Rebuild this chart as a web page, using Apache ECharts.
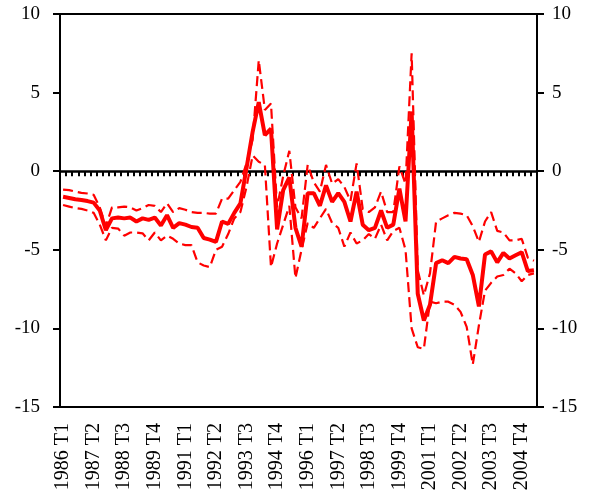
<!DOCTYPE html>
<html>
<head>
<meta charset="utf-8">
<script src="https://cdn.jsdelivr.net/npm/echarts@6/dist/echarts.min.js"></script>
<style>
html,body{margin:0;padding:0;background:#fff;}
#chart{width:589px;height:501px;}
</style>
</head>
<body>
<div id="chart"></div>
<script>
// Quarterly categories 1986 T1 .. 2005 T2
var years = [1986,1987,1988,1989,1990,1991,1992,1993,1994,1995,1996,1997,1998,1999,2000,2001,2002,2003,2004,2005];
var quarters = ['T1','T2','T3','T4'];
var categories = [];
years.forEach(function(y){ quarters.forEach(function(q){ categories.push(y + ' ' + q); }); });
categories = categories.slice(0, 78);

var central = [
 -1.63,-1.70,-1.78,-1.83,-1.90,-2.00,-2.50,-3.75,-3.00,-2.95,
 -3.00,-2.95,-3.20,-3.00,-3.10,-2.95,-3.45,-2.80,-3.60,-3.30,
 -3.40,-3.55,-3.60,-4.25,-4.35,-4.50,-3.20,-3.35,-2.65,-2.05,
  0.20, 2.50, 4.40, 2.30, 2.70,-3.70,-1.20,-0.40,-3.60,-4.80,
 -1.40,-1.40,-2.20,-0.90,-1.95,-1.40,-1.95,-3.20,-1.30,-3.40,
 -3.75,-3.60,-2.50,-3.60,-3.40,-1.10,-3.20, 3.80,-7.80,-9.50,
 -8.50,-5.85,-5.66,-5.85,-5.45,-5.55,-5.60,-6.60,-8.60,-5.30,
 -5.10,-5.80,-5.20,-5.55,-5.35,-5.15,-6.35,-6.30
];
var upper = [
 -1.17,-1.20,-1.30,-1.38,-1.42,-1.50,-2.30,-3.50,-2.30,-2.30,
 -2.25,-2.30,-2.50,-2.35,-2.15,-2.20,-2.60,-2.05,-2.60,-2.35,
 -2.45,-2.60,-2.65,-2.65,-2.70,-2.70,-1.74,-1.74,-1.20,-0.68,
  0.50, 2.00, 7.06, 3.90, 4.30,-2.30,-0.30, 1.30,-2.30,-3.00,
  0.40,-0.70,-1.30, 0.40,-0.80,-0.50,-1.00,-1.90, 0.50,-2.40,
 -2.60,-2.30,-1.30,-2.60,-2.60, 0.30,-0.80, 7.50,-6.30,-7.90,
 -6.50,-3.20,-3.00,-2.80,-2.65,-2.70,-2.80,-3.50,-4.50,-3.20,
 -2.60,-3.80,-3.90,-4.40,-4.40,-4.30,-5.50,-5.70
];
var lower = [
 -2.15,-2.25,-2.35,-2.40,-2.50,-2.65,-3.40,-4.40,-3.60,-3.65,
 -4.10,-3.90,-3.90,-3.95,-4.40,-3.90,-4.40,-4.10,-4.30,-4.60,
 -4.70,-4.70,-5.80,-6.00,-6.10,-5.00,-4.80,-4.00,-3.00,-2.60,
 -1.00, 1.00, 0.60, 0.40,-6.10,-4.60,-3.40,-2.20,-6.80,-5.00,
 -3.30,-3.60,-3.00,-2.40,-3.30,-3.60,-4.80,-3.90,-4.60,-4.40,
 -4.00,-4.30,-3.40,-4.40,-3.80,-3.60,-5.00,-10.00,-11.20,-11.30,
 -8.30,-8.40,-8.30,-8.30,-8.50,-8.95,-9.90,-12.30,-9.80,-7.60,
 -7.10,-6.70,-6.60,-6.20,-6.50,-7.00,-6.60,-6.50
];

var FONT = 'Liberation Serif';
var chart = echarts.init(document.getElementById('chart'), null, {renderer:'canvas'});
var yCommon = {
  type:'value', min:-15, max:10, interval:5,
  splitLine:{show:false},
  axisLine:{show:true, lineStyle:{color:'#000', width:2}},
  axisTick:{show:true, inside:false, length:7, lineStyle:{color:'#000', width:2}},
  axisLabel:{color:'#000', fontFamily:FONT, fontSize:19}
};
chart.setOption({
  animation:false,
  backgroundColor:'#fff',
  grid:{left:60, right:52, top:14, bottom:94, show:true, borderColor:'#000', borderWidth:2, backgroundColor:'transparent'},
  xAxis:[{
    type:'category', data:categories, boundaryGap:true, position:'bottom',
    axisLine:{onZero:false, lineStyle:{color:'#000', width:2}},
    axisTick:{show:false},
    axisLabel:{interval:4, rotate:90, margin:16, color:'#000', fontFamily:FONT, fontSize:20}
  },{
    type:'category', data:categories, boundaryGap:true, position:'bottom',
    axisLine:{show:true, onZero:true, onZeroAxisIndex:0, lineStyle:{color:'#000', width:2.5}},
    axisTick:{show:true, interval:0, length:5, lineStyle:{color:'#000', width:2}},
    axisLabel:{show:false}
  }],
  yAxis:[
    Object.assign({}, yCommon, {position:'left', axisLabel:Object.assign({}, yCommon.axisLabel, {margin:20})}),
    Object.assign({}, yCommon, {position:'right', axisLabel:Object.assign({}, yCommon.axisLabel, {margin:15})})
  ],
  series:[
    {type:'line', data:upper, xAxisIndex:0, yAxisIndex:0, symbol:'none', z:2,
     lineStyle:{color:'#ff0000', width:2.2, type:[10,5]}},
    {type:'line', data:lower, xAxisIndex:0, yAxisIndex:0, symbol:'none', z:2,
     lineStyle:{color:'#ff0000', width:2.2, type:[10,5]}},
    {type:'line', data:central, xAxisIndex:0, yAxisIndex:0, symbol:'none', z:3,
     lineStyle:{color:'#ff0000', width:4}}
  ]
});
</script>
</body>
</html>
